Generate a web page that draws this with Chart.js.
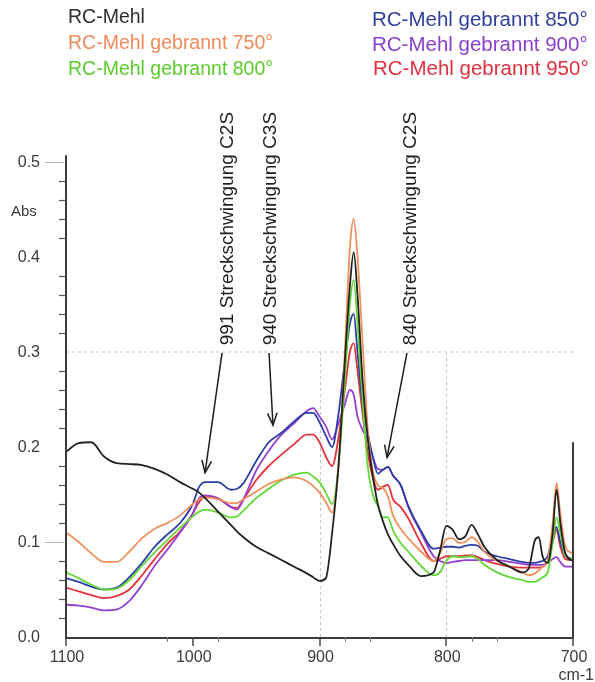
<!DOCTYPE html>
<html><head><meta charset="utf-8">
<script src="https://cdn.jsdelivr.net/npm/chart.js@4/dist/chart.umd.min.js"></script>
<style>html,body{margin:0;padding:0;background:#fff;}#wrap{width:595px;height:682px;position:relative;}</style>
</head><body><div id="wrap"><canvas id="c" width="595" height="682"></canvas></div>
<script>
// ---- data (wavenumber in cm-1, absorbance) ----
const wavenumbers = [1100,1090,1080,1070,1060,1050,1040,1030,1020,1010,1000,995,990,980,970,965,960,950,940,930,920,910,905,900,895,890,885,880,876,873,870,866,862,858,854,850,846,842,836,830,820,810,805,800,795,790,785,780,775,770,760,750,740,735,730,727,724,720,716,713,710,706,700];
const rcMehl = [.195,.204,.205,.190,.183,.182,.181,.177,.171,.163,.156,.152,.146,.132,.118,.111,.105,.095,.088,.081,.074,.067,.063,.059,.062,.11,.18,.29,.37,.405,.36,.27,.21,.17,.14,.122,.108,.098,.085,.076,.064,.068,.09,.117,.113,.103,.106,.118,.108,.095,.081,.074,.068,.072,.102,.105,.085,.078,.11,.155,.12,.088,.08];
const rc750 = [.11,.1,.088,.079,.079,.09,.104,.114,.12,.128,.14,.145,.147,.145,.141,.141,.145,.153,.161,.166,.168,.164,.159,.152,.142,.131,.18,.3,.41,.44,.4,.31,.22,.175,.16,.157,.148,.128,.114,.104,.09,.08,.088,.103,.104,.099,.1,.105,.1,.09,.08,.074,.068,.065,.067,.07,.074,.08,.12,.162,.13,.095,.088];
const rc800 = [.068,.062,.055,.05,.051,.06,.075,.089,.102,.115,.127,.132,.134,.131,.126,.127,.133,.146,.156,.165,.171,.173,.169,.163,.152,.14,.18,.27,.35,.376,.33,.25,.18,.15,.138,.126,.126,.112,.099,.09,.075,.065,.068,.08,.085,.084,.084,.085,.082,.076,.068,.063,.06,.058,.058,.06,.063,.068,.1,.126,.11,.085,.082];
const rc850 = [.062,.058,.053,.05,.052,.063,.078,.095,.108,.12,.14,.158,.163,.163,.155,.156,.162,.185,.205,.215,.227,.236,.236,.226,.212,.2,.235,.29,.33,.34,.3,.245,.215,.19,.172,.176,.179,.17,.16,.138,.112,.093,.094,.095,.095,.094,.096,.097,.096,.09,.085,.082,.079,.078,.078,.079,.08,.085,.105,.116,.1,.086,.082];
const rc900 = [.034,.033,.031,.028,.029,.038,.055,.075,.092,.11,.13,.146,.149,.146,.137,.134,.145,.175,.196,.213,.225,.238,.241,.232,.222,.208,.225,.245,.26,.255,.232,.218,.208,.19,.177,.176,.179,.17,.16,.137,.11,.085,.08,.078,.079,.08,.081,.081,.081,.081,.081,.079,.077,.076,.076,.076,.076,.078,.082,.084,.079,.074,.074];
const rc950 = [.052,.048,.044,.041,.043,.05,.065,.082,.098,.111,.13,.142,.148,.146,.137,.136,.145,.165,.18,.192,.203,.213,.213,.205,.19,.18,.21,.26,.3,.309,.28,.235,.195,.168,.155,.158,.16,.145,.137,.125,.099,.08,.082,.085,.085,.085,.086,.086,.084,.081,.077,.074,.073,.073,.073,.073,.074,.08,.1,.113,.095,.082,.081];
const seriesNames = ['RC-Mehl','RC-Mehl gebrannt 750°','RC-Mehl gebrannt 800°','RC-Mehl gebrannt 850°','RC-Mehl gebrannt 900°','RC-Mehl gebrannt 950°'];
const yTickLabels = [0.0,0.1,0.2,0.3,0.4,0.5];
const xTickLabels = [1100,1000,900,800,700];
const xMinorTicks = [1020,980,880,860,780,760];
const annotationTexts = ['991 Streckschwingung C2S','940 Streckschwingung C3S','840 Streckschwingung C2S'];
const annotationTextAt = [[972,0.307],[938.3,0.307],[827.8,0.307]];
const arrowFrom = [[976.9,0.299],[939.8,0.299],[831,0.299]];
const arrowTo = [[990.3,0.173],[936.7,0.223],[846.7,0.189]];

// ---- styles ----
const lineColors = ['#222222','#f0905c','#62d836','#2c3fa6','#9440d2','#e2323c'];
const textColors = ['#2e2e2e','#f08a5a','#5ccc2c','#2f3f9c','#8a40cc','#e03040'];
const FONT = '"Liberation Sans", Arial, Helvetica, sans-serif';

const allSeries = [rcMehl, rc750, rc800, rc850, rc900, rc950];
const datasets = allSeries.map((vals, i) => ({
  label: seriesNames[i],
  data: wavenumbers.map((w, k) => ({x: w, y: vals[k]})),
  borderColor: lineColors[i],
  borderWidth: 1.8,
  pointRadius: 0,
  fill: false,
  cubicInterpolationMode: 'monotone'
}));

const decor = {
  id: 'decor',
  beforeDatasetsDraw(chart) {
    const ctx = chart.ctx, xs = chart.scales.x, ys = chart.scales.y;
    const X = v => xs.getPixelForValue(v), Y = v => ys.getPixelForValue(v);
    ctx.save();
    ctx.strokeStyle = '#c4c4c4'; ctx.lineWidth = 1; ctx.setLineDash([3,3]);
    ctx.beginPath(); ctx.moveTo(X(1100), Y(0.3)); ctx.lineTo(X(700), Y(0.3)); ctx.stroke();
    [900, 800].forEach(w => { ctx.beginPath(); ctx.moveTo(Math.round(X(w))+0.5, Y(0.3)); ctx.lineTo(Math.round(X(w))+0.5, Y(0)); ctx.stroke(); });
    ctx.restore();
  },
  afterDatasetsDraw(chart) {
    const ctx = chart.ctx, xs = chart.scales.x, ys = chart.scales.y;
    const X = v => xs.getPixelForValue(v), Y = v => ys.getPixelForValue(v);
    const x0 = X(1100), y0 = Y(0);
    ctx.save();
    // axes
    ctx.strokeStyle = '#3a3a3a'; ctx.lineWidth = 2; ctx.setLineDash([]);
    ctx.beginPath(); ctx.moveTo(x0, Y(0.507)); ctx.lineTo(x0, y0 + 1); ctx.lineTo(X(700), y0 + 1); ctx.stroke();
    ctx.beginPath(); ctx.moveTo(X(700), Y(0.205)); ctx.lineTo(X(700), y0 + 1); ctx.stroke();
    // y minor ticks
    ctx.lineWidth = 1.2; ctx.strokeStyle = '#555';
    for (let k = 1; k < 25; k++) {
      if (k % 5 === 0) continue;
      const yy = Math.round(Y(k * 0.02)) + 0.5;
      ctx.beginPath(); ctx.moveTo(x0 - 7, yy); ctx.lineTo(x0, yy); ctx.stroke();
    }
    // y labels
    ctx.fillStyle = '#3a3a3a'; ctx.font = '16px ' + FONT; ctx.textAlign = 'right'; ctx.textBaseline = 'middle';
    yTickLabels.forEach(v => {
      ctx.fillText(v.toFixed(1), 40, Y(v) + 1);
      if (v === 0.5 || v === 0.1) {
        ctx.strokeStyle = '#b8b8b8'; ctx.lineWidth = 1;
        ctx.beginPath(); ctx.moveTo(45, Math.round(Y(v)) + 0.5); ctx.lineTo(x0 - 2, Math.round(Y(v)) + 0.5); ctx.stroke();
      }
    });
    ctx.textAlign = 'left'; ctx.font = '15px ' + FONT;
    ctx.fillText('Abs', 11, Y(0.447));
    // x ticks
    ctx.strokeStyle = '#444'; ctx.lineWidth = 1.5;
    xTickLabels.forEach(w => { const xx = Math.round(X(w)); ctx.beginPath(); ctx.moveTo(xx, y0); ctx.lineTo(xx, y0 + 9); ctx.stroke(); });
    ctx.lineWidth = 1; ctx.strokeStyle = '#777';
    xMinorTicks.forEach(w => { const xx = Math.round(X(w)) + 0.5; ctx.beginPath(); ctx.moveTo(xx, y0); ctx.lineTo(xx, y0 + 5); ctx.stroke(); });
    ctx.fillStyle = '#3a3a3a'; ctx.font = '16px ' + FONT; ctx.textAlign = 'center'; ctx.textBaseline = 'middle';
    xTickLabels.forEach(w => ctx.fillText(String(w), X(w) + 1, y0 + 21));
    ctx.textAlign = 'right'; ctx.font = '16px ' + FONT;
    ctx.fillText('cm-1', 594, y0 + 39);
    // annotations
    ctx.fillStyle = '#1e1e1e'; ctx.strokeStyle = '#1e1e1e'; ctx.lineWidth = 1.5;
    ctx.font = '19px ' + FONT;
    annotationTexts.forEach((t, i) => {
      const tx = X(annotationTextAt[i][0]), ty = Y(annotationTextAt[i][1]);
      ctx.save(); ctx.translate(tx, ty); ctx.rotate(-Math.PI / 2);
      ctx.textAlign = 'left'; ctx.textBaseline = 'middle'; ctx.fillText(t, 0, 0); ctx.restore();
      const ax = X(arrowFrom[i][0]), ay = Y(arrowFrom[i][1]);
      const bx = X(arrowTo[i][0]), by = Y(arrowTo[i][1]);
      ctx.beginPath(); ctx.moveTo(ax, ay); ctx.lineTo(bx, by); ctx.stroke();
      const ang = Math.atan2(by - ay, bx - ax), L = 13, sp = 0.38;
      ctx.beginPath();
      ctx.moveTo(bx - L * Math.cos(ang - sp), by - L * Math.sin(ang - sp));
      ctx.lineTo(bx, by);
      ctx.lineTo(bx - L * Math.cos(ang + sp), by - L * Math.sin(ang + sp));
      ctx.stroke();
    });
    // legend
    ctx.textAlign = 'left'; ctx.textBaseline = 'middle';
    const legendPos = [[68,18],[68,44],[68,70],[372,20],[372,45],[373,69]];
    seriesNames.forEach((n, i) => {
      ctx.font = (i < 3 ? '19.5px ' : '20.5px ') + FONT;
      ctx.fillStyle = textColors[i]; ctx.fillText(n, legendPos[i][0], legendPos[i][1]);
    });
    ctx.restore();
  }
};

new Chart(document.getElementById('c'), {
  type: 'line',
  data: { datasets },
  options: {
    responsive: false, animation: false, devicePixelRatio: 1,
    layout: { padding: { left: 66, right: 22, top: 143, bottom: 45 } },
    plugins: { legend: { display: false }, tooltip: { enabled: false } },
    scales: {
      x: { type: 'linear', min: 700, max: 1100, reverse: true, display: false },
      y: { type: 'linear', min: 0, max: 0.52, display: false }
    }
  },
  plugins: [decor]
});
</script></body></html>
